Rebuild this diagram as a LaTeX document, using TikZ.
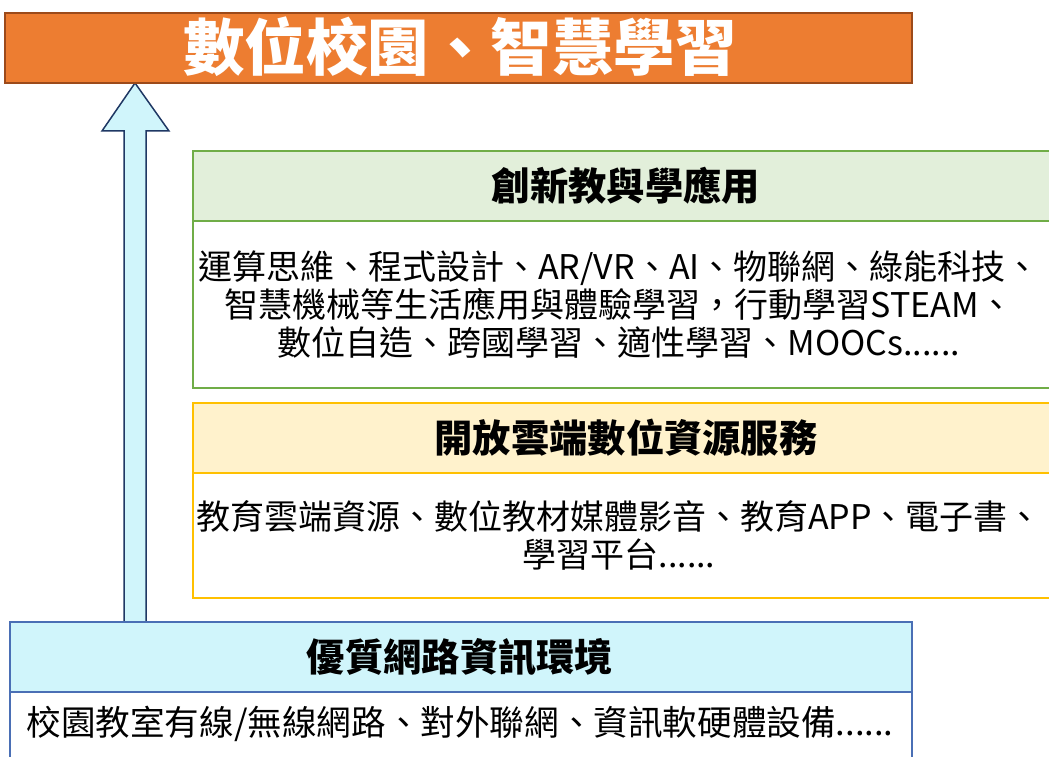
\documentclass[tikz,border=0pt]{standalone}
\usepackage{fontspec}
\setmainfont{Noto Sans CJK TC}
\definecolor{orfill}{HTML}{ED7D31}
\definecolor{ordraw}{HTML}{9C4A1A}
\definecolor{grfill}{HTML}{E2EFDA}
\definecolor{grdraw}{HTML}{70AD47}
\definecolor{yefill}{HTML}{FFF2CC}
\definecolor{yedraw}{HTML}{FFC000}
\definecolor{cyfill}{HTML}{D0F5FB}
\definecolor{bldraw}{HTML}{4A6FB5}
\definecolor{navy}{HTML}{1F3864}
\begin{document}
\begin{tikzpicture}[x=1pt,y=-1pt,
  box/.style={draw, line width=1.5pt, inner sep=0pt, outer sep=0pt, anchor=north west},
  headtext/.style={font=\fontsize{38.3}{40}\selectfont\bfseries, text=black},
  bodytext/.style={font=\fontsize{34.6}{38}\selectfont, text=black, align=center},
  widetext/.style={font=\fontsize{34}{38}\selectfont, text=black, align=center, inner sep=0pt}]
\useasboundingbox (0,0) rectangle (1049,757);
% block arrow
\draw[line width=1.5pt, draw=navy, fill=cyfill, line join=miter]
  (124,640) -- (124,131) -- (102,131) -- (135,83) -- (169,131) -- (146,131) -- (146,640) -- cycle;
% title
\node[box, draw=ordraw, fill=orfill, minimum width=907pt, minimum height=70pt] (title) at (5,13) {};
\node[font=\fontsize{61.5}{62}\selectfont\bfseries, text=white] (titletext) at (460,47) {數位校園、智慧學習};
% green box
\node[box, draw=grdraw, fill=grfill, minimum width=880pt, minimum height=70pt] (ghead) at (193,151) {};
\node[box, draw=grdraw, fill=white, minimum width=880pt, minimum height=167pt] (gbody) at (193,221) {};
\node[headtext] (gheadtext) at (626,186) {創新教與學應用};
\node[widetext] (gbodytext) at (619,305) {運算思維、程式設計、AR/VR、AI、物聯網、綠能科技、\\智慧機械等生活應用與體驗學習，行動學習STEAM、\\數位自造、跨國學習、適性學習、MOOCs......};
% yellow box
\node[box, draw=yedraw, fill=yefill, minimum width=880pt, minimum height=70pt] (yhead) at (193,403) {};
\node[box, draw=yedraw, fill=white, minimum width=880pt, minimum height=125pt] (ybody) at (193,473) {};
\node[headtext] (yheadtext) at (626,438) {開放雲端數位資源服務};
\node[widetext] (ybodytext) at (619,535) {教育雲端資源、數位教材媒體影音、教育APP、電子書、\\學習平台......};
% bottom box
\node[box, draw=bldraw, fill=cyfill, minimum width=902pt, minimum height=70pt] (bhead) at (10,622) {};
\node[box, draw=bldraw, fill=white, minimum width=902pt, minimum height=80pt] (bbody) at (10,692) {};
\node[headtext] (bheadtext) at (460,657) {優質網路資訊環境};
\node[bodytext] (bbodytext) at (460,724) {校園教室有線/無線網路、對外聯網、資訊軟硬體設備......};
\end{tikzpicture}
\end{document}
